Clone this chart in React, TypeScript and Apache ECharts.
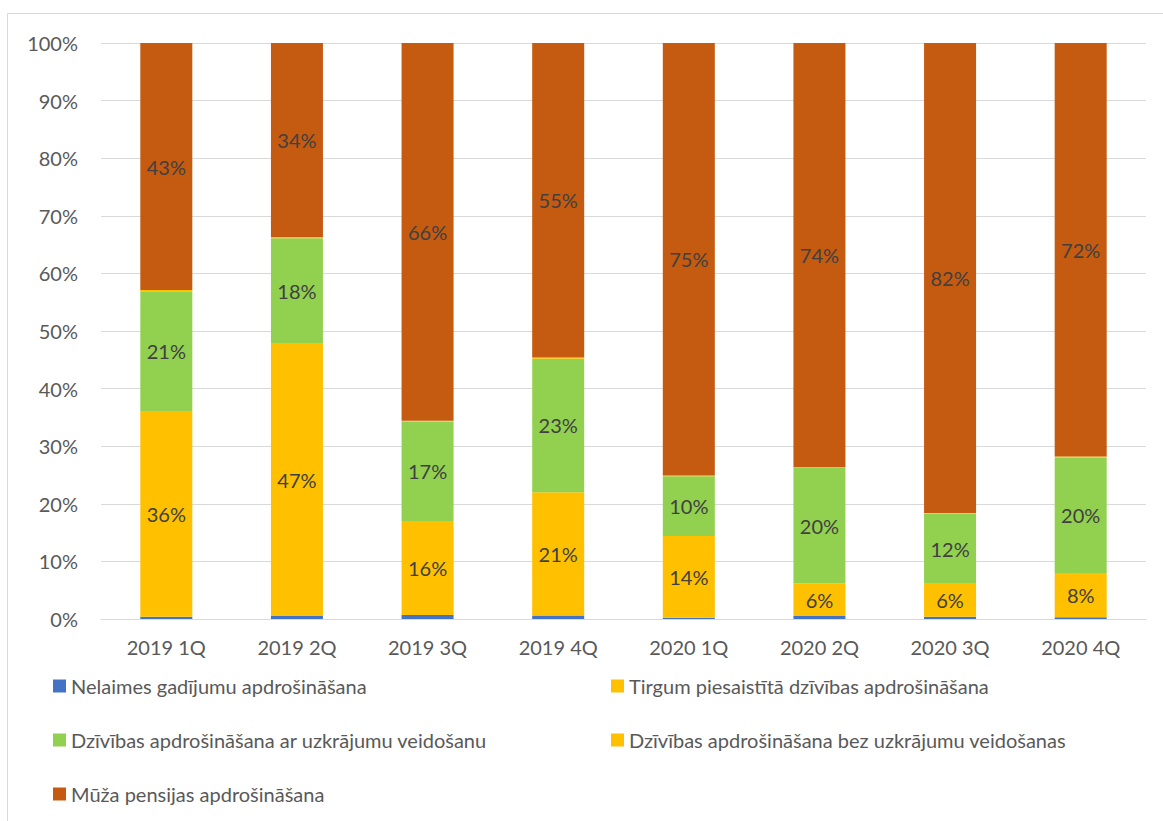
import React, { useEffect, useRef } from "react";
import * as echarts from "echarts";

const categories = ["2019 1Q", "2019 2Q", "2019 3Q", "2019 4Q", "2020 1Q", "2020 2Q", "2020 3Q", "2020 4Q"];
const seriesNames = [
  "Nelaimes gadījumu apdrošināšana",
  "Tirgum piesaistītā dzīvības apdrošināšana",
  "Dzīvības apdrošināšana ar uzkrājumu veidošanu",
  "Dzīvības apdrošināšana bez uzkrājumu veidošanas",
  "Mūža pensijas apdrošināšana",
];
const nelaimes = [0.4, 0.5, 0.7, 0.6, 0.2, 0.5, 0.4, 0.3];
const tirgum = [35.7, 47.3, 16.3, 21.4, 14.2, 5.7, 5.7, 7.7];
const arUzkrajumu = [20.8, 18.3, 17.3, 23.2, 10.4, 20.0, 12.2, 20.0];
const bezUzkrajumu = [0.2, 0.2, 0.1, 0.2, 0.1, 0.2, 0.1, 0.2];
const muzaPensijas = [42.9, 33.7, 65.6, 54.6, 75.1, 73.6, 81.6, 71.8];
const yTicks = [0, 10, 20, 30, 40, 50, 60, 70, 80, 90, 100];

const colors = ["#4472C4", "#FFC000", "#92D050", "#FFC000", "#C55A11"];
const FONT = "Lato";
const FS = 20;

export default function App() {
  const ref = useRef<HTMLDivElement>(null);
  useEffect(() => {
    const chart = echarts.init(ref.current!, null, { renderer: "svg" });
    const dataSets = [nelaimes, tirgum, arUzkrajumu, bezUzkrajumu, muzaPensijas];
    const showLabel = [false, true, true, false, true];
    chart.setOption({
      animation: false,
      textStyle: { fontFamily: FONT },
      graphic: [
        {
          type: "rect",
          shape: { x: 7.5, y: 13.5, width: 1170, height: 900 },
          style: { fill: "none", stroke: "#d9d9d9", lineWidth: 1 },
          silent: true,
        },
      ],
      grid: { left: 101, right: 17, top: 43, bottom: 202, containLabel: false },
      xAxis: {
        type: "category",
        data: categories,
        axisLine: { lineStyle: { color: "#d9d9d9", width: 1 } },
        axisTick: { show: false },
        axisLabel: { color: "#595959", fontSize: FS, fontFamily: FONT, margin: 18 },
      },
      yAxis: {
        type: "value",
        min: 0,
        max: 100,
        interval: 10,
        axisLine: { show: false },
        axisTick: { show: false },
        splitLine: { lineStyle: { color: "#d9d9d9", width: 1 } },
        axisLabel: {
          color: "#595959",
          fontSize: FS,
          fontFamily: FONT,
          margin: 23,
          formatter: (v: number) => (yTicks.includes(v) ? v + "%" : ""),
        },
      },
      legend: [
        {
          data: [seriesNames[0], seriesNames[2], seriesNames[4]],
          orient: "vertical",
          left: 48,
          top: 671,
          itemGap: 34,
          itemWidth: 13,
          itemHeight: 13,
          icon: "rect",
          textStyle: { color: "#595959", fontSize: FS, fontFamily: FONT },
        },
        {
          data: [seriesNames[1], seriesNames[3]],
          orient: "vertical",
          left: 606,
          top: 671,
          itemGap: 34,
          itemWidth: 13,
          itemHeight: 13,
          icon: "rect",
          textStyle: { color: "#595959", fontSize: FS, fontFamily: FONT },
        },
      ],
      series: dataSets.map((d, i) => ({
        name: seriesNames[i],
        type: "bar",
        stack: "total",
        barWidth: 52,
        data: d,
        itemStyle: { color: colors[i] },
        label: {
          show: showLabel[i],
          position: "inside",
          color: "#404040",
          fontSize: FS,
          fontFamily: FONT,
          formatter: (p: any) => Math.round(p.value) + "%",
        },
      })),
    });
    return () => chart.dispose();
  }, []);
  return (
    <div
      ref={ref}
      style={{ position: "fixed", left: 0, top: 0, width: 1163, height: 821, background: "#fff" }}
    />
  );
}
